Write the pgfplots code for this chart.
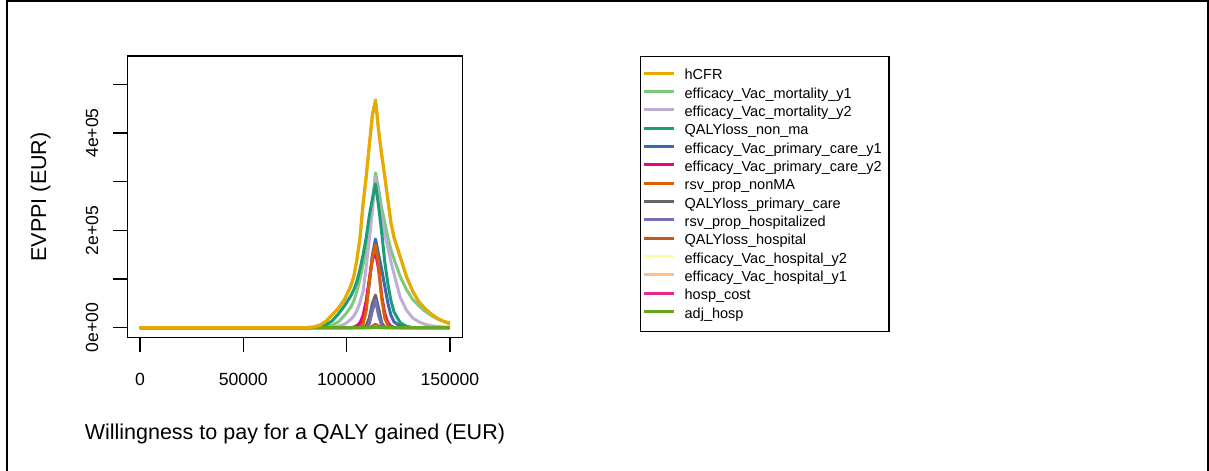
\documentclass[border=0pt]{standalone}
\usepackage{fontspec}
\setmainfont{Liberation Sans}
\usepackage{pgfplots}
\pgfplotsset{compat=1.18}
\definecolor{cHCFR}{HTML}{E6AB02}
\definecolor{cMortA}{HTML}{7FC97F}
\definecolor{cMortB}{HTML}{BEAED4}
\definecolor{cNonMa}{HTML}{1B9E77}
\definecolor{cPcA}{HTML}{386CB0}
\definecolor{cPcB}{HTML}{F0027F}
\definecolor{cNonMA}{HTML}{D95F02}
\definecolor{cQPc}{HTML}{666666}
\definecolor{cHospz}{HTML}{7570B3}
\definecolor{cQHosp}{HTML}{BF5B17}
\definecolor{cHospB}{HTML}{FFFF99}
\definecolor{cHospA}{HTML}{FDC086}
\definecolor{cHcost}{HTML}{E7298A}
\definecolor{cAdj}{HTML}{66A61E}
\newcommand{\labsize}{\fontsize{21.5bp}{25bp}\selectfont}
\newcommand{\ticksize}{\fontsize{17.6bp}{21bp}\selectfont}
\newcommand{\legsize}{\fontsize{14.5bp}{17bp}\selectfont}
\begin{document}
\begin{tikzpicture}
\useasboundingbox (0bp,0bp) rectangle (1209bp,-471bp);
\draw[line width=2bp] (7bp,-472bp) -- (7bp,-1bp) -- (1208bp,-1bp) -- (1208bp,-472bp);
\begin{axis}[
  at={(127.5bp,-337.7bp)}, anchor=south west,
  scale only axis, width=334.8bp, height=281.7bp,
  xmin=-6000, xmax=156000, ymin=-20500, ymax=558100,
  axis line style={line width=1.3bp},
  scaled x ticks=false, scaled y ticks=false,
  xtick={0,50000,100000,150000}, xticklabels={0,50000,100000,150000},
  ytick={0,100000,200000,300000,400000,500000},
  yticklabels={0e+00,,2e+05,,4e+05,},
  tick align=outside, xtick pos=left, ytick pos=left,
  major tick length=14bp,
  every tick/.style={black, line width=1.3bp},
  tick label style={font=\ticksize},
  xticklabel style={anchor=base, yshift=-33.6bp},
  yticklabel style={xshift=-15.4bp, rotate=90, anchor=base},
  xlabel={Willingness to pay for a QALY gained (EUR)},
  ylabel={EVPPI (EUR)},
  label style={font=\labsize},
  xlabel style={at={(axis description cs:0.5,-0.3596)}, anchor=base},
  ylabel style={at={(axis description cs:-0.2434,0.5)}, anchor=base},
  legend cell align=left,
  legend style={at={(axis description cs:1.5308,1.0011)}, anchor=north west,
    draw=black, line width=1.3bp, inner xsep=2bp, inner ysep=9.45bp,
    row sep=0.85bp, column sep=9bp, font=\legsize,
    nodes={inner sep=0pt, text height=14bp, text depth=3.5bp}},
  legend image code/.code={\draw[#1, line width=3bp] (0bp,1.5bp) -- (30bp,1.5bp);},
  every axis plot/.append style={line width=3bp, line join=round},
]
\addplot[cHCFR] coordinates {(0,0) (78000,0) (81000,500) (84000,1500) (87000,5000) (90000,13000) (93000,26000) (96000,40000) (99000,58000) (102000,85000) (103500,105000) (105000,140000) (106500,185000) (108000,255000) (109500,310000) (111000,375000) (112500,437000) (114000,467500) (115500,405000) (117000,355000) (118500,310000) (120000,262000) (121500,215000) (123000,185000) (126000,145000) (129000,105000) (132000,75000) (135000,53000) (138000,39000) (141000,28000) (144000,19000) (147000,13000) (150000,7600)};
\addlegendentry{hCFR}
\addplot[cMortA] coordinates {(0,0) (87000,0) (90000,2000) (93000,5000) (96000,12000) (99000,25000) (102000,42000) (103500,55000) (105000,75000) (106500,100000) (108000,130000) (109500,165000) (111000,210000) (112500,255000) (114000,318000) (115500,285000) (117000,245000) (118500,215000) (120000,185000) (121500,160000) (123000,140000) (126000,105000) (129000,78000) (132000,58000) (135000,45000) (138000,34000) (141000,25000) (144000,18000) (147000,13000) (150000,10000)};
\addlegendentry{efficacy\_Vac\_mortality\_y1}
\addplot[cMortB] coordinates {(0,0) (90000,0) (93000,1000) (96000,3000) (99000,7000) (102000,17000) (103500,24000) (105000,35000) (106500,52000) (108000,75000) (109500,125000) (111000,180000) (112500,240000) (114000,308000) (115500,262000) (117000,222000) (118500,190000) (120000,165000) (121500,135000) (123000,110000) (126000,62000) (129000,36000) (132000,20000) (135000,12000) (138000,7000) (141000,4000) (144000,2500) (147000,1500) (150000,1000)};
\addlegendentry{efficacy\_Vac\_mortality\_y2}
\addplot[cNonMa] coordinates {(0,0) (84000,0) (87000,2000) (90000,6000) (93000,14000) (96000,28000) (99000,45000) (102000,65000) (103500,78000) (105000,95000) (106500,120000) (108000,150000) (109500,185000) (111000,230000) (112500,265000) (114000,295000) (115500,250000) (117000,195000) (118500,135000) (120000,90000) (121500,55000) (123000,32000) (126000,10000) (129000,3000) (132000,0) (150000,0)};
\addlegendentry{QALYloss\_non\_ma}
\addplot[cPcA] coordinates {(0,0) (102000,0) (103500,1000) (105000,3000) (106500,8000) (108000,20000) (109500,45000) (111000,90000) (112500,150000) (114000,182000) (115500,150000) (117000,120000) (118500,85000) (120000,50000) (121500,25000) (123000,12000) (126000,3000) (129000,0) (150000,0)};
\addlegendentry{efficacy\_Vac\_primary\_care\_y1}
\addplot[cPcB] coordinates {(0,0) (102000,0) (103500,1000) (105000,4000) (106500,10000) (108000,25000) (109500,55000) (111000,100000) (112500,140000) (114000,155000) (115500,120000) (117000,65000) (118500,30000) (120000,10000) (121500,3000) (123000,1000) (126000,0) (150000,0)};
\addlegendentry{efficacy\_Vac\_primary\_care\_y2\hspace*{5.3bp}}
\addplot[cNonMA] coordinates {(0,0) (105000,0) (106500,1000) (108000,8000) (109500,35000) (111000,95000) (112500,145000) (114000,170000) (115500,130000) (117000,60000) (118500,20000) (120000,5000) (121500,1000) (123000,0) (150000,0)};
\addlegendentry{rsv\_prop\_nonMA}
\addplot[cQPc] coordinates {(0,0) (108000,0) (109500,4000) (111000,20000) (112500,50000) (114000,67000) (115500,40000) (117000,10000) (118500,1000) (120000,0) (150000,0)};
\addlegendentry{QALYloss\_primary\_care}
\addplot[cHospz] coordinates {(0,0) (109500,0) (111000,8000) (112500,35000) (114000,57000) (115500,25000) (117000,4000) (118500,0) (150000,0)};
\addlegendentry{rsv\_prop\_hospitalized}
\addplot[cQHosp] coordinates {(0,0) (111000,0) (112500,3000) (114000,7000) (115500,3000) (117000,0) (150000,0)};
\addlegendentry{QALYloss\_hospital}
\addplot[cHospB] coordinates {(0,0) (112500,0) (114000,1500) (115500,0) (150000,0)};
\addlegendentry{efficacy\_Vac\_hospital\_y2}
\addplot[cHospA] coordinates {(0,0) (112500,0) (114000,1500) (115500,0) (150000,0)};
\addlegendentry{efficacy\_Vac\_hospital\_y1}
\addplot[cHcost] coordinates {(0,0) (112500,0) (114000,1000) (115500,0) (150000,0)};
\addlegendentry{hosp\_cost}
\addplot[cAdj] coordinates {(0,0) (150000,0)};
\addlegendentry{adj\_hosp}
\addplot[cHCFR, forget plot] coordinates {(0,0) (78000,0) (81000,500) (84000,1500) (87000,5000) (90000,13000) (93000,26000) (96000,40000) (99000,58000) (102000,85000) (103500,105000) (105000,140000) (106500,185000) (108000,255000) (109500,310000) (111000,375000) (112500,437000) (114000,467500) (115500,405000) (117000,355000) (118500,310000) (120000,262000) (121500,215000) (123000,185000) (126000,145000) (129000,105000) (132000,75000) (135000,53000) (138000,39000) (141000,28000) (144000,19000) (147000,13000) (150000,7600)};
\end{axis}
\end{tikzpicture}
\end{document}
